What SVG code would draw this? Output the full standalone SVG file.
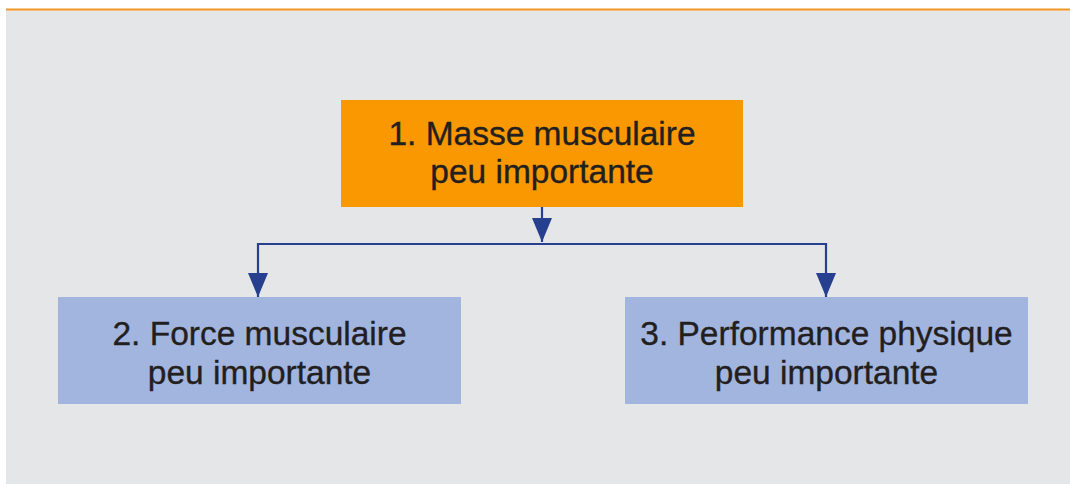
<svg xmlns="http://www.w3.org/2000/svg" width="1070" height="485" viewBox="0 0 1070 485">
  <style>
    .lbl { font-family: "Liberation Sans", Arial, sans-serif; font-size: 33.5px; fill: #231f20; stroke: #231f20; stroke-width: 0.35; text-anchor: middle; }
    .conn { fill: none; stroke: #26408f; stroke-width: 2.2; }
  </style>
  <defs>
    <marker id="arr" markerUnits="userSpaceOnUse" viewBox="0 0 24 20" refX="24" refY="10" markerWidth="24" markerHeight="20" orient="auto">
      <path d="M0 0 L24 10 L0 20 z" fill="#26408f"/>
    </marker>
  </defs>
  <rect x="0" y="0" width="1070" height="485" fill="#ffffff"/>
  <rect x="6" y="10" width="1064" height="474" fill="#e5e6e8"/>
  <rect x="6" y="8.5" width="1064" height="1.5" fill="#f2962a"/>
  <rect x="6" y="10" width="1064" height="1" fill="#f7c07a"/>

  <g id="connectors">
    <path class="conn" d="M542 207 V242" marker-end="url(#arr)"/>
    <path class="conn" d="M542 244 H258 V297" marker-end="url(#arr)"/>
    <path class="conn" d="M542 244 H826 V297" marker-end="url(#arr)"/>
  </g>

  <g id="node1">
    <rect x="341" y="100" width="402" height="107" fill="#f99800"/>
    <text class="lbl" x="542" y="144.5">1. Masse musculaire</text>
    <text class="lbl" x="542" y="182.5">peu importante</text>
  </g>
  <g id="node2">
    <rect x="58" y="297" width="403" height="107" fill="#a2b5df"/>
    <text class="lbl" x="259.5" y="344.5">2. Force musculaire</text>
    <text class="lbl" x="259.5" y="383.5">peu importante</text>
  </g>
  <g id="node3">
    <rect x="625" y="297" width="403" height="107" fill="#a2b5df"/>
    <text class="lbl" x="826.5" y="344.5">3. Performance physique</text>
    <text class="lbl" x="826.5" y="383.5">peu importante</text>
  </g>
</svg>
